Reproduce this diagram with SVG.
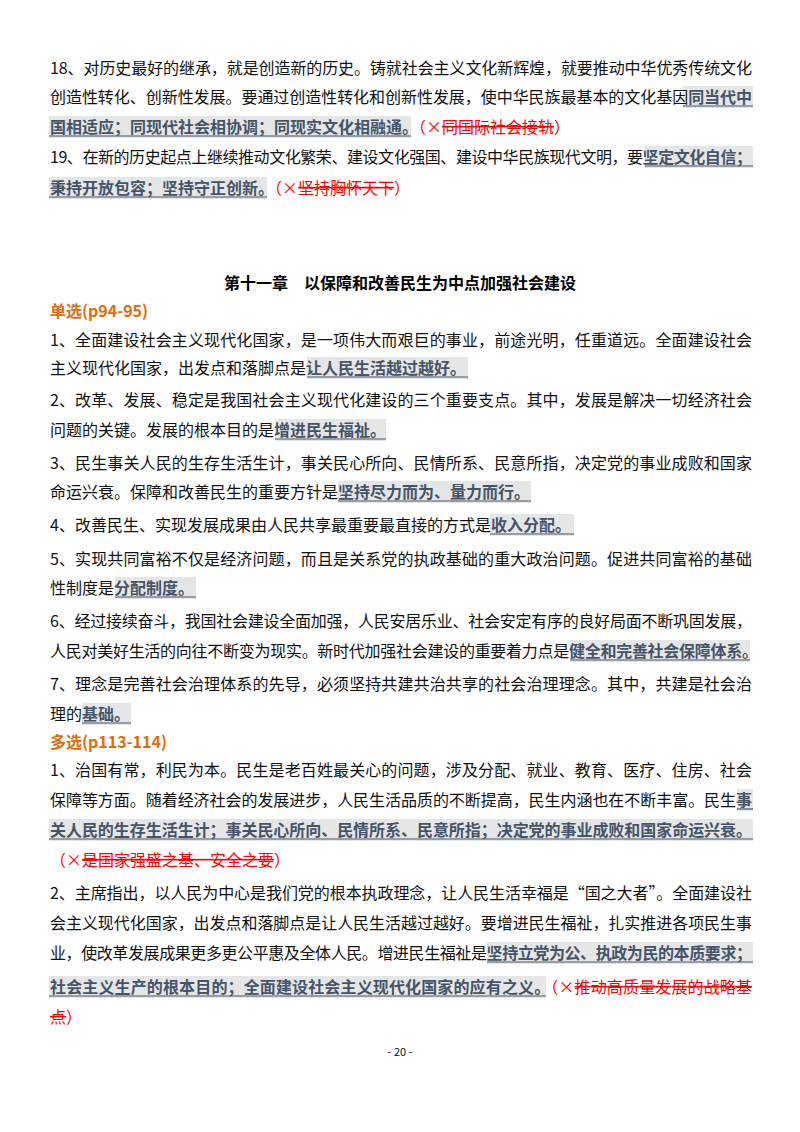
<svg xmlns="http://www.w3.org/2000/svg" width="800" height="1132" viewBox="0 0 800 1132">
<style>
text{font-family:"Noto Sans CJK SC","Liberation Sans",sans-serif;font-size:16px;fill:#111}
.h{font-weight:bold;fill:#44546A}
.r{fill:#FF0000}
.s{fill:#FF0000;text-decoration:line-through}
.o{fill:#E36C09;font-weight:bold}
.t{font-weight:bold;fill:#000}
.bg{fill:#E7E6E6}
.u{stroke:#44546A;stroke-width:1.2}
</style>
<rect width="800" height="1132" fill="#fff"/>
<g id="highlights">
<rect class="bg" x="683" y="86" width="70" height="22"/>
<rect class="bg" x="49" y="116" width="362" height="22"/>
<rect class="bg" x="645" y="146" width="108" height="22"/>
<rect class="bg" x="49" y="177" width="218" height="22"/>
<rect class="bg" x="307" y="357" width="161" height="22"/>
<rect class="bg" x="275" y="419" width="111" height="22"/>
<rect class="bg" x="338" y="481" width="193" height="22"/>
<rect class="bg" x="490" y="514" width="84" height="22"/>
<rect class="bg" x="115" y="577" width="81" height="22"/>
<rect class="bg" x="570" y="640" width="180" height="22"/>
<rect class="bg" x="82" y="703" width="49" height="22"/>
<rect class="bg" x="737" y="789" width="16" height="22"/>
<rect class="bg" x="49" y="819" width="704" height="22"/>
<rect class="bg" x="487" y="942" width="266" height="22"/>
<rect class="bg" x="49" y="976" width="497" height="22"/>
</g>
<g id="underlines">
<line class="u" x1="683" y1="106" x2="753" y2="106"/>
<line class="u" x1="49" y1="136" x2="411" y2="136"/>
<line class="u" x1="645" y1="166" x2="753" y2="166"/>
<line class="u" x1="49" y1="197" x2="267" y2="197"/>
<line class="u" x1="307" y1="377" x2="468" y2="377"/>
<line class="u" x1="275" y1="439" x2="386" y2="439"/>
<line class="u" x1="338" y1="501" x2="531" y2="501"/>
<line class="u" x1="490" y1="534" x2="574" y2="534"/>
<line class="u" x1="115" y1="597" x2="196" y2="597"/>
<line class="u" x1="570" y1="660" x2="750" y2="660"/>
<line class="u" x1="82" y1="723" x2="131" y2="723"/>
<line class="u" x1="737" y1="809" x2="753" y2="809"/>
<line class="u" x1="49" y1="839" x2="753" y2="839"/>
<line class="u" x1="487" y1="962" x2="753" y2="962"/>
<line class="u" x1="49" y1="996" x2="546" y2="996"/>
</g>
<g id="text">
<text x="50" y="74" textLength="702" lengthAdjust="spacing">18、对历史最好的继承，就是创造新的历史。铸就社会主义文化新辉煌，就要推动中华优秀传统文化</text>
<text x="50" y="103" textLength="702" lengthAdjust="spacing">创造性转化、创新性发展。要通过创造性转化和创新性发展，使中华民族最基本的文化基因<tspan class="h">同当代中</tspan></text>
<text x="50" y="133"><tspan class="h">国相适应；同现代社会相协调；同现实文化相融通。</tspan><tspan class="r">（×</tspan><tspan class="s">同国际社会接轨</tspan><tspan class="r">）</tspan></text>
<text x="50" y="163" textLength="702" lengthAdjust="spacing">19、在新的历史起点上继续推动文化繁荣、建设文化强国、建设中华民族现代文明，要<tspan class="h">坚定文化自信；</tspan></text>
<text x="50" y="194"><tspan class="h">秉持开放包容；坚持守正创新。</tspan><tspan class="r">（×</tspan><tspan class="s">坚持胸怀天下</tspan><tspan class="r">）</tspan></text>
<text x="400" y="289" text-anchor="middle" class="t">第十一章　以保障和改善民生为中点加强社会建设</text>
<text x="50" y="317" class="o">单选(p94-95)</text>
<text x="50" y="346" textLength="702" lengthAdjust="spacing">1、全面建设社会主义现代化国家，是一项伟大而艰巨的事业，前途光明，任重道远。全面建设社会</text>
<text x="50" y="374">主义现代化国家，出发点和落脚点是<tspan class="h">让人民生活越过越好。</tspan></text>
<text x="50" y="406" textLength="702" lengthAdjust="spacing">2、改革、发展、稳定是我国社会主义现代化建设的三个重要支点。其中，发展是解决一切经济社会</text>
<text x="50" y="436">问题的关键。发展的根本目的是<tspan class="h">增进民生福祉。</tspan></text>
<text x="50" y="469" textLength="702" lengthAdjust="spacing">3、民生事关人民的生存生活生计，事关民心所向、民情所系、民意所指，决定党的事业成败和国家</text>
<text x="50" y="498">命运兴衰。保障和改善民生的重要方针是<tspan class="h">坚持尽力而为、量力而行。</tspan></text>
<text x="50" y="531">4、改善民生、实现发展成果由人民共享最重要最直接的方式是<tspan class="h">收入分配。</tspan></text>
<text x="50" y="565" textLength="702" lengthAdjust="spacing">5、实现共同富裕不仅是经济问题，而且是关系党的执政基础的重大政治问题。促进共同富裕的基础</text>
<text x="50" y="594">性制度是<tspan class="h">分配制度。</tspan></text>
<text x="50" y="627" textLength="702" lengthAdjust="spacing">6、经过接续奋斗，我国社会建设全面加强，人民安居乐业、社会安定有序的良好局面不断巩固发展，</text>
<text x="50" y="657" textLength="708" lengthAdjust="spacing">人民对美好生活的向往不断变为现实。新时代加强社会建设的重要着力点是<tspan class="h">健全和完善社会保障体系</tspan>。</text>
<text x="50" y="690" textLength="702" lengthAdjust="spacing">7、理念是完善社会治理体系的先导，必须坚持共建共治共享的社会治理理念。其中，共建是社会治</text>
<text x="50" y="720">理的<tspan class="h">基础。</tspan></text>
<text x="50" y="748" class="o">多选(p113-114)</text>
<text x="50" y="776" textLength="702" lengthAdjust="spacing">1、治国有常，利民为本。民生是老百姓最关心的问题，涉及分配、就业、教育、医疗、住房、社会</text>
<text x="50" y="806" textLength="702" lengthAdjust="spacing">保障等方面。随着经济社会的发展进步，人民生活品质的不断提高，民生内涵也在不断丰富。民生<tspan class="h">事</tspan></text>
<text x="50" y="836" textLength="702" lengthAdjust="spacing"><tspan class="h">关人民的生存生活生计；事关民心所向、民情所系、民意所指；决定党的事业成败和国家命运兴衰。</tspan></text>
<text x="50" y="866"><tspan class="r">（×</tspan><tspan class="s">是国家强盛之基、安全之要</tspan><tspan class="r">）</tspan></text>
<text x="50" y="899" textLength="702" lengthAdjust="spacing">2、主席指出，以人民为中心是我们党的根本执政理念，让人民生活幸福是“国之大者”。全面建设社</text>
<text x="50" y="929" textLength="702" lengthAdjust="spacing">会主义现代化国家，出发点和落脚点是让人民生活越过越好。要增进民生福祉，扎实推进各项民生事</text>
<text x="50" y="959" textLength="702" lengthAdjust="spacing">业，使改革发展成果更多更公平惠及全体人民。增进民生福祉是<tspan class="h">坚持立党为公、执政为民的本质要求；</tspan></text>
<text x="50" y="993" textLength="702" lengthAdjust="spacing"><tspan class="h">社会主义生产的根本目的；全面建设社会主义现代化国家的应有之义。</tspan><tspan class="r">（×</tspan><tspan class="s">推动高质量发展的战略基</tspan></text>
<text x="50" y="1023"><tspan class="s">点</tspan><tspan class="r">）</tspan></text>
<text x="400" y="1056" text-anchor="middle" style="font-size:11px">- 20 -</text>
</g>
</svg>
